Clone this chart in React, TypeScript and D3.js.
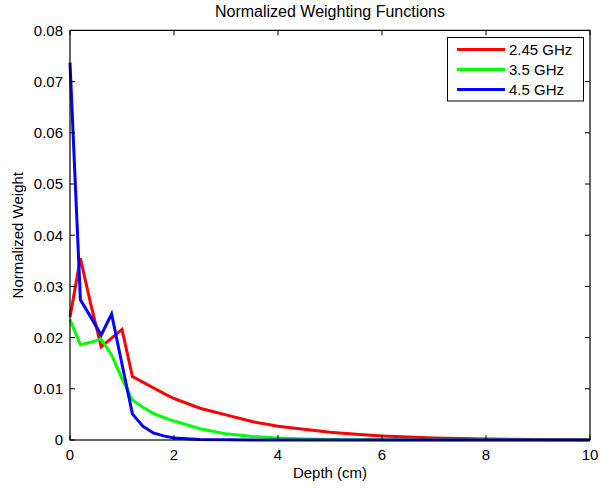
import React from "react";
import * as d3 from "d3";

const depth = [0, 0.2, 0.4, 0.6, 0.8, 1.0, 1.2, 1.4, 1.6, 1.8, 2.0, 2.5, 3.0, 3.5, 4.0, 4.5, 5.0, 5.5, 6.0, 6.5, 7.0, 8.0, 9.0, 10.0];
const w245 = [0.024, 0.0355, 0.0265, 0.0182, 0.0199, 0.0216, 0.0124, 0.0113, 0.0102, 0.0091, 0.0081, 0.0062, 0.0049, 0.0036, 0.0027, 0.0021, 0.0015, 0.0011, 0.0008, 0.0006, 0.0004, 0.0002, 0.0001, 0.00005];
const w35 = [0.0235, 0.0186, 0.0191, 0.0197, 0.0166, 0.012, 0.0078, 0.0064, 0.0052, 0.0044, 0.0037, 0.0022, 0.0012, 0.0007, 0.0004, 0.0002, 0.0001, 0.00005, 0.00003, 0.00002, 0.00001, 0, 0, 0];
const w45 = [0.0737, 0.0274, 0.024, 0.0205, 0.0246, 0.0148, 0.0051, 0.0027, 0.0014, 0.0008, 0.0004, 0.0001, 0.00003, 0.00001, 0, 0, 0, 0, 0, 0, 0, 0, 0, 0];

const seriesNames = ["2.45 GHz", "3.5 GHz", "4.5 GHz"];
const seriesColors = ["#ff0000", "#00ff00", "#0000ff"];
const seriesValues = [w245, w35, w45];

const xTicks = [0, 2, 4, 6, 8, 10];
const yTicks = [0, 0.01, 0.02, 0.03, 0.04, 0.05, 0.06, 0.07, 0.08];

const W = 600, H = 488;
const L = 70, R = 590, T = 30.4, B = 440;

export default function App() {
  const x = d3.scaleLinear().domain([0, 10]).range([L, R]);
  const y = d3.scaleLinear().domain([0, 0.08]).range([B, T]);
  const line = d3.line<[number, number]>().x(d => x(d[0])).y(d => y(d[1]));
  const font = "'Liberation Sans', Arial, Helvetica, sans-serif";
  const tl = 5;
  return (
    <svg width={W} height={H} style={{ position: "absolute", left: 0, top: 0, background: "#fff" }} fontFamily={font}>
      <rect x={0} y={0} width={W} height={H} fill="#fff" />
      {seriesValues.map((vals, i) => (
        <path key={i} d={line(depth.map((d, j) => [d, vals[j]]) as [number, number][]) || ""} fill="none" stroke={seriesColors[i]} strokeWidth={3} strokeLinejoin="miter" />
      ))}
      <rect x={L} y={T} width={R - L} height={B - T} fill="none" stroke="#000" strokeWidth={1.2} />
      {xTicks.map(t => (
        <g key={"x" + t}>
          <line x1={x(t)} x2={x(t)} y1={B} y2={B - tl} stroke="#000" strokeWidth={1} />
          <line x1={x(t)} x2={x(t)} y1={T} y2={T + tl} stroke="#000" strokeWidth={1} />
          <text x={x(t)} y={460} textAnchor="middle" fontSize={15} fill="#000">{t}</text>
        </g>
      ))}
      {yTicks.map(t => (
        <g key={"y" + t}>
          <line x1={L} x2={L + tl} y1={y(t)} y2={y(t)} stroke="#000" strokeWidth={1} />
          <line x1={R} x2={R - tl} y1={y(t)} y2={y(t)} stroke="#000" strokeWidth={1} />
          <text x={63} y={y(t)} dy="0.36em" textAnchor="end" fontSize={15} fill="#000">{t === 0 ? "0" : d3.format(".2f")(t)}</text>
        </g>
      ))}
      <text x={(L + R) / 2} y={17} textAnchor="middle" fontSize={16} fill="#000">Normalized Weighting Functions</text>
      <text x={(L + R) / 2} y={478} textAnchor="middle" fontSize={15} fill="#000">Depth (cm)</text>
      <text transform={`translate(23, ${(T + B) / 2}) rotate(-90)`} textAnchor="middle" fontSize={15} fill="#000">Normalized Weight</text>
      <g>
        <rect x={447.5} y={37.5} width={136} height={63.5} fill="#fff" stroke="#000" strokeWidth={1} />
        {seriesNames.map((n, i) => (
          <g key={n}>
            <line x1={457} x2={505} y1={49.5 + i * 20} y2={49.5 + i * 20} stroke={seriesColors[i]} strokeWidth={3} />
            <text x={509} y={49.5 + i * 20} dy="0.36em" fontSize={15} fill="#000">{n}</text>
          </g>
        ))}
      </g>
    </svg>
  );
}
